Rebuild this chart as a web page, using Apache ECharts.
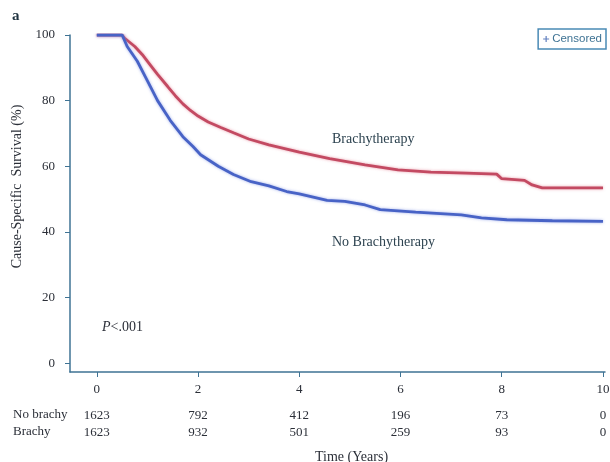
<!DOCTYPE html>
<html lang="en">
<head>
  <meta charset="UTF-8">
  <script src="https://cdn.jsdelivr.net/npm/echarts@6.0.0/dist/echarts.min.js"></script>
</head>
<body style="margin:0;background:#fff;">
  <div id="kmChart" style="width: 610px;height:462px;"></div>

  <script type="text/javascript">

    // Kaplan-Meier curves: [years, survival %]
    var brachyCurve = [
      [0, 100], [0.5, 100], [0.55, 99], [0.75, 96.5], [0.9, 94], [1.05, 91],
      [1.2, 88], [1.4, 84.3], [1.55, 81.5], [1.7, 79], [1.85, 77], [2.0, 75.3],
      [2.2, 73.5], [2.45, 71.8], [2.7, 70.2], [3.0, 68.3], [3.4, 66.5],
      [4.0, 64.3], [4.6, 62.3], [5.3, 60.4], [5.95, 58.9], [6.6, 58.2],
      [7.3, 57.9], [7.9, 57.6], [8.0, 56.2], [8.45, 55.7], [8.6, 54.3],
      [8.8, 53.4], [10.0, 53.4]
    ];
    var noBrachyCurve = [
      [0, 100], [0.5, 100], [0.6, 96.5], [0.8, 92], [1.0, 86], [1.2, 80],
      [1.45, 74], [1.7, 69], [1.9, 66], [2.05, 63.5], [2.4, 60], [2.7, 57.5],
      [3.05, 55.3], [3.4, 54], [3.75, 52.3], [4.0, 51.6], [4.55, 49.6],
      [4.9, 49.3], [5.3, 48.2], [5.6, 46.8], [6.3, 46], [7.2, 45.2],
      [7.6, 44.3], [8.1, 43.7], [9.0, 43.4], [10.0, 43.2]
    ];

    // numbers at risk
    var riskTimes = [0, 2, 4, 6, 8, 10];
    var noBrachyRisk = [1623, 792, 412, 196, 73, 0];
    var brachyRisk = [1623, 932, 501, 259, 93, 0];

    var yTicks = [0, 20, 40, 60, 80, 100];

    var serif = '"Liberation Serif", "DejaVu Serif", serif';
    var axisColor = '#3f7394';
    var textColor = '#2b2f38';

    var chart = echarts.init(document.getElementById('kmChart'));

    function riskAxis(counts, offset) {
        return {
            type: 'value',
            gridIndex: 0,
            position: 'bottom',
            offset: offset,
            min: -0.53,
            max: 10.04,
            axisLine: { show: false, onZero: false },
            axisTick: { show: false },
            splitLine: { show: false },
            axisLabel: {
                customValues: riskTimes,
                margin: 8,
                fontFamily: serif,
                fontSize: 13,
                color: textColor,
                formatter: function (v) {
                    var i = riskTimes.indexOf(v);
                    return i >= 0 ? String(counts[i]) : '';
                }
            }
        };
    }

    var option = {
        animation: false,
        backgroundColor: '#fff',
        grid: { left: 70, right: 5, top: 35, bottom: 90, outerBoundsMode: 'none', containLabel: false },
        legend: {
            data: ['Censored'],
            right: 4,
            top: 29,
            padding: [4, 4, 4, 5],
            borderColor: '#4a8ab5',
            borderWidth: 1.5,
            itemWidth: 6,
            itemHeight: 6,
            itemGap: 4,
            icon: 'path://M2,0H3V2H5V3H3V5H2V3H0V2H2Z',
            textStyle: { fontFamily: 'Liberation Sans, Arial, sans-serif', fontSize: 11.5, color: '#3f7394', padding: [0, 0, 0, -2] }
        },
        xAxis: [
            {
                type: 'value',
                min: -0.53,
                max: 10.04,
                name: 'Time (Years)',
                nameLocation: 'middle',
                nameGap: 78,
                nameTextStyle: { fontFamily: serif, fontSize: 14, color: textColor, padding: [0, 0, 0, 28] },
                axisLine: { onZero: false, lineStyle: { color: axisColor, width: 1.5 } },
                axisTick: { customValues: riskTimes, length: 5, lineStyle: { color: axisColor } },
                axisLabel: { customValues: riskTimes, margin: 11, fontFamily: serif, fontSize: 13, color: textColor },
                splitLine: { show: false }
            },
            riskAxis(noBrachyRisk, 29),
            riskAxis(brachyRisk, 46)
        ],
        yAxis: {
            type: 'value',
            min: -2.7,
            max: 100,
            name: 'Cause-Specific  Survival (%)',
            nameLocation: 'middle',
            nameGap: 46,
            nameRotate: 90,
            nameTextStyle: { fontFamily: serif, fontSize: 14, color: textColor, padding: [0, 0, 0, 34] },
            axisLine: { show: true, onZero: false, lineStyle: { color: axisColor, width: 1.5 } },
            axisTick: { show: true, customValues: yTicks, length: 5, lineStyle: { color: axisColor } },
            axisLabel: { customValues: yTicks, margin: 15, fontFamily: serif, fontSize: 13, color: textColor },
            splitLine: { show: false }
        },
        series: [
            {
                name: 'Brachytherapy',
                type: 'line',
                xAxisIndex: 0,
                data: brachyCurve,
                showSymbol: false,
                lineStyle: { color: '#c34a62', width: 2.8, shadowColor: 'rgba(225,120,140,0.7)', shadowBlur: 3 }
            },
            {
                name: 'No Brachytherapy',
                type: 'line',
                xAxisIndex: 0,
                data: noBrachyCurve,
                showSymbol: false,
                lineStyle: { color: '#4863c6', width: 2.8, shadowColor: 'rgba(120,140,225,0.7)', shadowBlur: 3 }
            },
            {
                name: 'Censored',
                type: 'scatter',
                xAxisIndex: 0,
                data: [],
                itemStyle: { color: '#3a5fae' }
            }
        ],
        graphic: [
            { type: 'text', left: 12, top: 9, style: { text: 'a', font: 'bold 15px ' + serif, fill: '#1f3340' } },
            { type: 'text', left: 332, top: 132, style: { text: 'Brachytherapy', font: '14px ' + serif, fill: '#2d4350' } },
            { type: 'text', left: 332, top: 235, style: { text: 'No Brachytherapy', font: '14px ' + serif, fill: '#2d4350' } },
            { type: 'text', left: 102, top: 320, style: { rich: { i: { fontStyle: 'italic', fontFamily: serif, fontSize: 14, fill: textColor }, n: { fontFamily: serif, fontSize: 14, fill: textColor } }, text: '{i|P}{n|<.001}' } },
            { type: 'text', left: 13, top: 408, style: { text: 'No brachy', font: '13px ' + serif, fill: textColor } },
            { type: 'text', left: 13, top: 425, style: { text: 'Brachy', font: '13px ' + serif, fill: textColor } }
        ]
    };

    chart.setOption(option);
  </script>
</body>
</html>
